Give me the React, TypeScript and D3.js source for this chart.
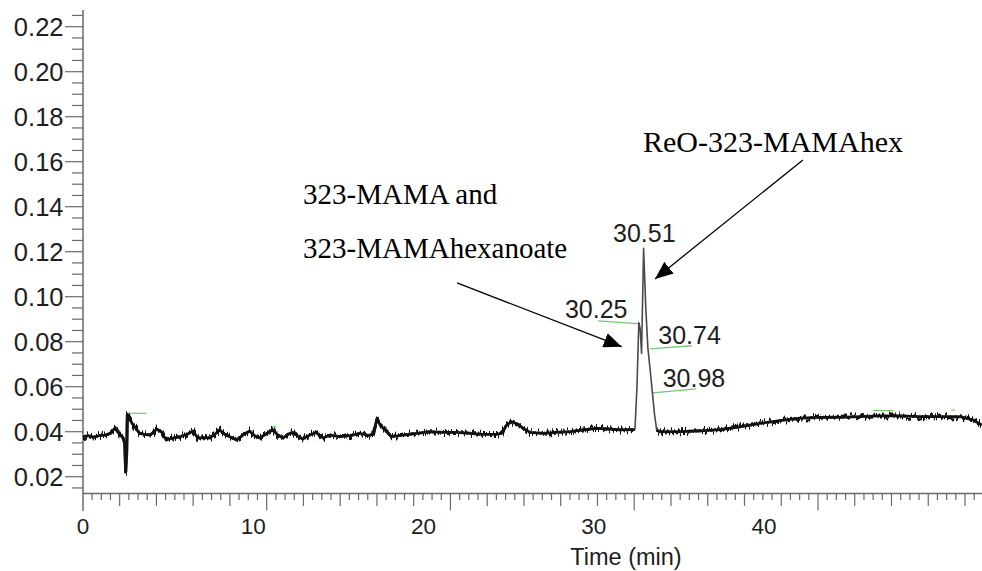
import React from "react";
import * as d3 from "d3";

// Chromatogram trace: retention time (min) and detector response (AU)
const times = [
  0.0, 0.3, 0.6, 0.9, 1.2, 1.5, 1.73, 1.95, 2.18, 2.28, 2.33, 2.38, 2.42, 2.55, 2.73, 2.9,
  3.09, 3.35, 3.63, 3.85, 4.0, 4.15, 4.27, 4.4, 4.54, 4.9, 5.2, 5.45, 5.75, 5.99, 6.26, 6.6,
  6.9, 7.2, 7.44, 7.7, 7.99, 8.35, 8.7, 9.07, 9.35, 9.62, 10.0, 10.34, 10.6, 10.89, 11.15,
  11.43, 11.7, 11.98, 12.35, 12.7, 13.07, 13.45, 13.99, 14.53, 15.08, 15.5, 15.8, 15.95,
  16.0, 16.17, 16.53, 16.8, 17.44, 18.16, 18.89, 19.61, 20.34, 21.06, 21.79, 22.52, 22.79,
  23.06, 23.33, 23.69, 23.97, 24.33, 25.05, 25.78, 26.5, 27.23, 27.96, 28.59, 29.3, 30.04,
  30.15, 30.25, 30.32, 30.4, 30.51, 30.63, 30.74, 30.86, 30.98, 31.1, 31.22, 31.4, 32.49,
  33.58, 34.67, 35.76, 36.84, 37.93, 39.02, 40.11, 41.2, 42.28, 43.37, 44.46, 45.55, 46.64,
  47.73, 48.45, 48.91,
];
const absorbance = [
  0.0378, 0.0382, 0.0376, 0.0383, 0.0385, 0.0392, 0.0415, 0.0395, 0.0372, 0.0345, 0.0222,
  0.03, 0.0477, 0.0455, 0.043, 0.0412, 0.0393, 0.0388, 0.0385, 0.0395, 0.0412, 0.0406, 0.04,
  0.038, 0.0363, 0.0372, 0.0376, 0.0382, 0.0392, 0.0403, 0.0371, 0.0374, 0.0372, 0.039,
  0.0408, 0.039, 0.0378, 0.0363, 0.0385, 0.0403, 0.0382, 0.0372, 0.0392, 0.0408, 0.0385,
  0.0372, 0.0388, 0.0397, 0.038, 0.0368, 0.0385, 0.0397, 0.0372, 0.0385, 0.0378, 0.0383,
  0.0393, 0.0383, 0.0388, 0.044, 0.0456, 0.043, 0.04, 0.0378, 0.0385, 0.0393, 0.04, 0.0397,
  0.0397, 0.0393, 0.0388, 0.0388, 0.0393, 0.043, 0.0444, 0.0432, 0.0415, 0.0397, 0.0393,
  0.0397, 0.04, 0.0408, 0.0415, 0.0412, 0.0408, 0.041, 0.06, 0.0885, 0.086, 0.0748, 0.1215,
  0.095, 0.0775, 0.068, 0.058, 0.048, 0.0408, 0.04, 0.04, 0.0404, 0.0409, 0.0422, 0.0437,
  0.0449, 0.046, 0.0464, 0.0464, 0.0467, 0.047, 0.047, 0.0467, 0.0467, 0.0467, 0.0452, 0.043,
];

// Axis labels
const yTickLabels = [0.02, 0.04, 0.06, 0.08, 0.1, 0.12, 0.14, 0.16, 0.18, 0.2, 0.22];
const xTickLabels = [0, 10, 20, 30, 40];
const xTitle = "Time (min)";

// Integrated peaks: retention-time label and its baseline marker (time, response pairs)
const peakLabels = ["30.25", "30.51", "30.74", "30.98"];
const peakMarkers: ([number, number, number, number] | null)[] = [
  [28.03, 0.0893, 30.31, 0.0879],
  null,
  [30.86, 0.0768, 33.13, 0.0782],
  [31.02, 0.0573, 33.36, 0.059],
];
// Small integration-event ticks along the baseline
const eventMarkers: [number, number, number][] = [
  [2.38, 3.47, 0.0482],
  [10.25, 10.52, 0.0422],
  [42.99, 44.08, 0.0494],
  [47.25, 47.45, 0.0496],
];
// Elution window of the main peak group (min)
const peakWindow: [number, number] = [30.04, 31.22];

// Compound annotations
const compoundNames = ["ReO-323-MAMAhex", "323-MAMA and", "323-MAMAhexanoate"];

const W = 982;
const H = 571;

const x = d3.scaleLinear().domain([0, 40]).range([82.9, 818]);
const xLabelPos = d3.scaleLinear().domain([0, 40]).range([83, 764]);
const y = d3.scaleLinear().domain([0.02, 0.22]).range([476.7, 26.7]);

const AXIS_X = 83;
const AXIS_Y = 493.5;
const AXIS_TOP = 10;

const SANS = "'Liberation Sans', Arial, sans-serif";
const SERIF = "'Liberation Serif', 'Times New Roman', serif";
const TEXT = "#1e1e1e";
const AXIS = "#6a6a6a";
const GREEN = "#74c874";

// Layout of the text labels (time, response anchor points)
const peakLabelPos: { t: number; v: number; anchor: "start" | "middle" }[] = [
  { t: 26.23, v: 0.0904, anchor: "start" },
  { t: 30.55, v: 0.1244, anchor: "middle" },
  { t: 31.31, v: 0.079, anchor: "start" },
  { t: 31.55, v: 0.06, anchor: "start" },
];
const compoundPos = [
  { t: 30.48, v: 0.1645, size: 30 },
  { t: 11.98, v: 0.1414, size: 29 },
  { t: 11.98, v: 0.117, size: 29 },
];
const arrows = [
  { from: [39.18, 0.1608], to: [31.13, 0.1079] },
  { from: [20.36, 0.1061], to: [29.32, 0.0778] },
];

export default function App() {
  const pts: [number, number][] = times.map((t, i) => [t, absorbance[i]]);
  const line = d3
    .line<[number, number]>()
    .x((d) => x(d[0]))
    .y((d) => y(d[1]));

  const before = pts.filter((d) => d[0] <= peakWindow[0]);
  const peak = pts.filter((d) => d[0] >= peakWindow[0] && d[0] <= peakWindow[1]);
  const after = pts.filter((d) => d[0] >= peakWindow[1]);

  const yTicks = d3.range(3, 46).map((i) => ({ v: i * 0.005, major: i % 4 === 0 }));
  const xTicks = d3.range(1, 98).map((i) => ({
    t: i * 0.5,
    len: i % 20 === 0 ? 17 : i % 4 === 0 ? 12.5 : 6.5,
  }));

  return (
    <svg
      width={W}
      height={H}
      viewBox={`0 0 ${W} ${H}`}
      style={{ position: "absolute", left: 0, top: 0, background: "#fff" }}
    >
      <defs>
        <filter
          id="detector-noise"
          filterUnits="userSpaceOnUse"
          x={0}
          y={300}
          width={W}
          height={220}
          colorInterpolationFilters="sRGB"
        >
          <feTurbulence type="fractalNoise" baseFrequency="0.55 0.03" numOctaves={2} seed={11} result="n" />
          <feColorMatrix
            in="n"
            type="matrix"
            values="0 0 0 0 0.5  0 2.2 0 0 -0.6  0 0 1 0 0  0 0 0 0 1"
            result="m"
          />
          <feDisplacementMap in="SourceGraphic" in2="m" scale={6.5} xChannelSelector="R" yChannelSelector="G" />
        </filter>
        <marker
          id="arrowhead"
          markerUnits="userSpaceOnUse"
          markerWidth={19}
          markerHeight={15}
          refX={18}
          refY={7.5}
          orient="auto"
        >
          <path d="M0,0 L18,7.5 L0,15 Z" fill="#000" />
        </marker>
      </defs>

      {/* y axis */}
      <line x1={AXIS_X} x2={AXIS_X} y1={AXIS_TOP} y2={511} stroke={AXIS} strokeWidth={1.5} />
      {yTicks.map((d, i) => (
        <line
          key={`yt${i}`}
          x1={AXIS_X - (d.major ? 18 : 11)}
          x2={AXIS_X}
          y1={y(d.v)}
          y2={y(d.v)}
          stroke={AXIS}
          strokeWidth={1.2}
        />
      ))}
      {yTickLabels.map((v) => (
        <text
          key={`yl${v}`}
          x={63.5}
          y={y(v) + 9.2}
          textAnchor="end"
          fontFamily={SANS}
          fontSize={25.5}
          fill={TEXT}
        >
          {d3.format(".2f")(v)}
        </text>
      ))}

      {/* x axis */}
      <line x1={AXIS_X} x2={W} y1={AXIS_Y} y2={AXIS_Y} stroke={AXIS} strokeWidth={1.5} />
      {xTicks.map((d, i) => (
        <line
          key={`xt${i}`}
          x1={x(d.t)}
          x2={x(d.t)}
          y1={AXIS_Y}
          y2={AXIS_Y + d.len}
          stroke={AXIS}
          strokeWidth={1.2}
        />
      ))}
      {xTickLabels.map((v) => (
        <text
          key={`xl${v}`}
          x={xLabelPos(v)}
          y={534}
          textAnchor="middle"
          fontFamily={SANS}
          fontSize={22.5}
          fill={TEXT}
        >
          {v}
        </text>
      ))}
      <text x={626} y={565} textAnchor="middle" fontFamily={SANS} fontSize={23.5} fill={TEXT}>
        {xTitle}
      </text>

      {/* integration markers */}
      {eventMarkers.map((m, i) => (
        <line key={`ev${i}`} x1={x(m[0])} x2={x(m[1])} y1={y(m[2])} y2={y(m[2])} stroke={GREEN} strokeWidth={1.2} />
      ))}
      {peakMarkers.map((m, i) =>
        m ? (
          <line key={`pm${i}`} x1={x(m[0])} y1={y(m[1])} x2={x(m[2])} y2={y(m[3])} stroke={GREEN} strokeWidth={1.3} />
        ) : null
      )}

      {/* trace: noisy baseline sections */}
      {[before, after].map((seg, i) => (
        <g key={`seg${i}`}>
          <path d={line(seg) ?? ""} fill="none" stroke="#111" strokeWidth={2.8} strokeLinejoin="round" />
          <path
            d={line(seg) ?? ""}
            fill="none"
            stroke="#111"
            strokeWidth={3}
            strokeLinejoin="round"
            filter="url(#detector-noise)"
          />
        </g>
      ))}
      {/* trace: peak group */}
      <path d={line(peak) ?? ""} fill="none" stroke="#4a4a4a" strokeWidth={1.6} strokeLinejoin="round" />

      {/* peak retention-time labels */}
      {peakLabels.map((s, i) => (
        <text
          key={`pl${i}`}
          x={x(peakLabelPos[i].t)}
          y={y(peakLabelPos[i].v)}
          textAnchor={peakLabelPos[i].anchor}
          fontFamily={SANS}
          fontSize={25}
          fill={TEXT}
        >
          {s}
        </text>
      ))}

      {/* compound annotations */}
      {compoundNames.map((s, i) => (
        <text
          key={`cn${i}`}
          x={x(compoundPos[i].t)}
          y={y(compoundPos[i].v)}
          fontFamily={SERIF}
          fontSize={compoundPos[i].size}
          fill="#000"
        >
          {s}
        </text>
      ))}
      {arrows.map((a, i) => (
        <line
          key={`ar${i}`}
          x1={x(a.from[0])}
          y1={y(a.from[1])}
          x2={x(a.to[0])}
          y2={y(a.to[1])}
          stroke="#000"
          strokeWidth={1.3}
          markerEnd="url(#arrowhead)"
        />
      ))}
    </svg>
  );
}
